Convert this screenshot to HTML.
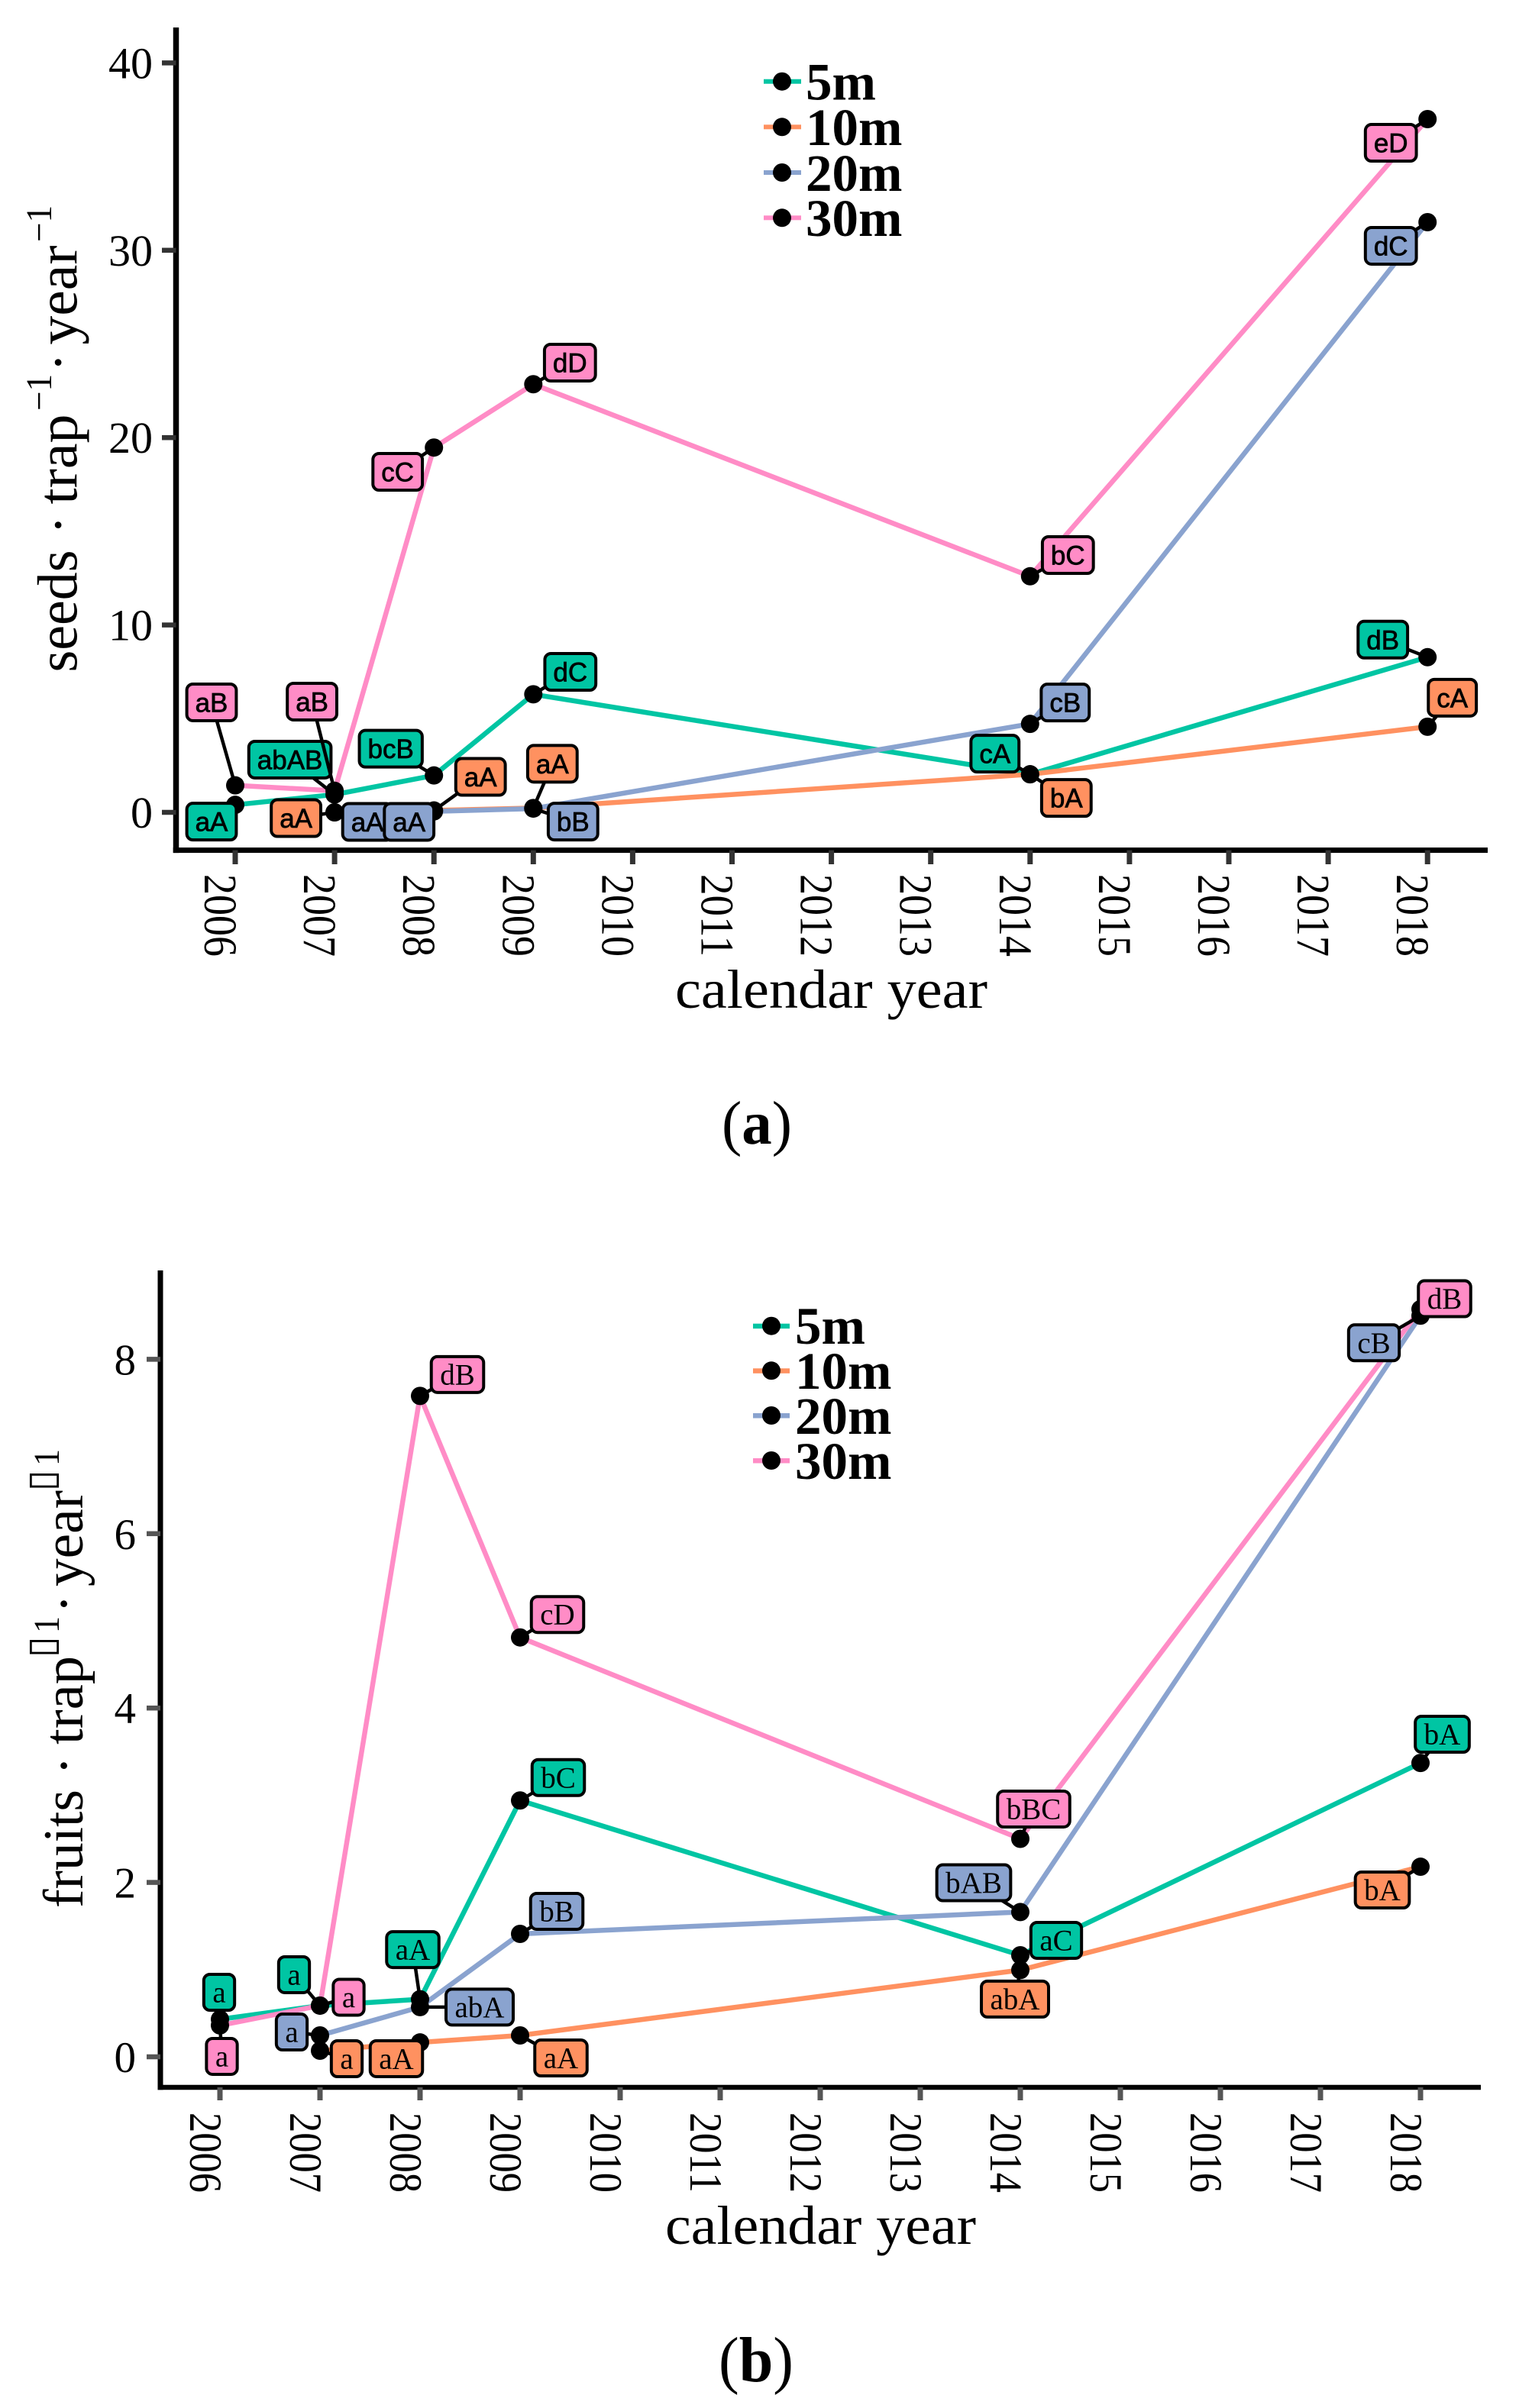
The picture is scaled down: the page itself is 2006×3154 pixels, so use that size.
<!DOCTYPE html>
<html lang="en">
<head>
<meta charset="utf-8">
<title>Seeds and fruits per trap per year</title>
<style>
html,body{margin:0;padding:0;background:#fff}
svg{display:block}
.serif{font-family:"Liberation Serif",serif;fill:#000}
.title{font-size:72px}
.ytitle{font-size:74px}
.sup{font-size:48px}
.leg{font-size:69px;font-weight:bold}
.tof{font-family:"DejaVu Sans",sans-serif;font-size:50px;fill:#000}
</style>
</head>
<body>
<svg id="figure" xmlns="http://www.w3.org/2000/svg" width="2006" height="3154" viewBox="0 0 2006 3154">
  <rect x="0" y="0" width="2006" height="3154" fill="#fff"/>
  <g id="panelA"></g>
  <g id="panelB"></g>

  <g>
    <text class="serif ytitle" transform="translate(100.7,880.5) rotate(-90)" textLength="160" lengthAdjust="spacingAndGlyphs">seeds</text>
    <text class="serif ytitle" transform="translate(100.7,700) rotate(-90)" x="0">·</text>
    <text class="serif ytitle" transform="translate(100.7,660.5) rotate(-90)" textLength="118" lengthAdjust="spacingAndGlyphs">trap</text>
    <text class="serif sup" transform="translate(67,538) rotate(-90)" textLength="48" lengthAdjust="spacingAndGlyphs">−1</text>
    <text class="serif ytitle" transform="translate(100.7,487) rotate(-90)">·</text>
    <text class="serif ytitle" transform="translate(100.7,451.5) rotate(-90)" textLength="130" lengthAdjust="spacingAndGlyphs">year</text>
    <text class="serif sup" transform="translate(67,317) rotate(-90)" textLength="48" lengthAdjust="spacingAndGlyphs">−1</text>
  </g>
  <text class="serif title" x="884" y="1320" textLength="409" lengthAdjust="spacingAndGlyphs">calendar year</text>
  <g>
    <g><rect x="1000" y="103.7" width="49" height="6" fill="rgb(0,197,163)"/><circle cx="1024" cy="106.7" r="12"/><text class="serif leg" x="1055" y="130.7">5m</text></g>
    <g><rect x="1000" y="163.3" width="49" height="6" fill="rgb(255,145,96)"/><circle cx="1024" cy="166.3" r="12"/><text class="serif leg" x="1055" y="190">10m</text></g>
    <g><rect x="1000" y="223" width="49" height="6" fill="rgb(138,163,207)"/><circle cx="1024" cy="226" r="12"/><text class="serif leg" x="1055" y="250">20m</text></g>
    <g><rect x="1000" y="282.3" width="49" height="6" fill="rgb(255,140,198)"/><circle cx="1024" cy="285.3" r="12"/><text class="serif leg" x="1055" y="309">30m</text></g>
  </g>
  <text class="serif" x="945" y="1498" font-size="80" textLength="92" lengthAdjust="spacingAndGlyphs">(<tspan font-weight="bold">a</tspan>)</text>

  <g>
    <text class="serif ytitle" transform="translate(108,2499) rotate(-90)" textLength="155" lengthAdjust="spacingAndGlyphs">fruits</text>
    <text class="serif ytitle" transform="translate(108,2325) rotate(-90)">·</text>
    <text class="serif ytitle" transform="translate(108,2285) rotate(-90)" textLength="116" lengthAdjust="spacingAndGlyphs">trap</text>
    <text class="tof" transform="translate(71,2171) rotate(-90)">▯</text>
    <text class="serif sup" transform="translate(77,2139) rotate(-90)" textLength="22" lengthAdjust="spacingAndGlyphs">1</text>
    <text class="serif ytitle" transform="translate(108,2113) rotate(-90)">·</text>
    <text class="serif ytitle" transform="translate(108,2078) rotate(-90)" textLength="126" lengthAdjust="spacingAndGlyphs">year</text>
    <text class="tof" transform="translate(71,1953) rotate(-90)">▯</text>
    <text class="serif sup" transform="translate(77,1920) rotate(-90)" textLength="22" lengthAdjust="spacingAndGlyphs">1</text>
  </g>
  <text class="serif title" x="871" y="2939" textLength="407" lengthAdjust="spacingAndGlyphs">calendar year</text>
  <g>
    <g><rect x="986" y="1733.7" width="48" height="6.5" fill="rgb(0,197,163)"/><circle cx="1010" cy="1736.7" r="12"/><text class="serif leg" x="1041" y="1760">5m</text></g>
    <g><rect x="986" y="1792.3" width="48" height="6.5" fill="rgb(255,145,96)"/><circle cx="1010" cy="1795.3" r="12"/><text class="serif leg" x="1041" y="1819">10m</text></g>
    <g><rect x="986" y="1851" width="48" height="6.5" fill="rgb(138,163,207)"/><circle cx="1010" cy="1854" r="12"/><text class="serif leg" x="1041" y="1878">20m</text></g>
    <g><rect x="986" y="1910" width="48" height="6.5" fill="rgb(255,140,198)"/><circle cx="1010" cy="1913" r="12"/><text class="serif leg" x="1041" y="1937">30m</text></g>
  </g>
  <text class="serif" x="941" y="3119" font-size="84" textLength="98" lengthAdjust="spacingAndGlyphs">(<tspan font-weight="bold">b</tspan>)</text>
</svg>

<script>
// ---------- shared tick labels ----------
const xTickLabels = [2006,2007,2008,2009,2010,2011,2012,2013,2014,2015,2016,2017,2018];
const seriesNames = ['5m','10m','20m','30m'];

// ---------- panel (a): seeds per trap per year ----------
const seedYTickLabels = [0,10,20,30,40];
const seedYears5m  = [2006,2007,2008,2009,2014,2018];
const seedYears10m = [2007,2008,2009,2014,2018];
const seedYears20m = [2007,2008,2009,2014,2018];
const seedYears30m = [2006,2007,2008,2009,2014,2018];
const seedValues5m  = [0.4,0.95,1.97,6.3,2.03,8.28];
const seedValues10m = [0,0.1,0.23,2.03,4.57];
const seedValues20m = [0,0.05,0.2,4.72,31.5];
const seedValues30m = [1.44,1.15,19.47,22.85,12.6,37];
const seedLabels5m  = ['aA','abAB','bcB','dC','cA','dB'];
const seedLabels10m = ['aA','aA','aA','bA','cA'];
const seedLabels20m = ['aA','aA','bB','cB','dC'];
const seedLabels30m = ['aB','aB','cC','dD','bC','eD'];

// ---------- panel (b): fruits per trap per year ----------
const fruitYTickLabels = [0,2,4,6,8];
const fruitYears5m  = [2006,2007,2008,2009,2014,2018];
const fruitYears10m = [2007,2008,2009,2014,2018];
const fruitYears20m = [2007,2008,2009,2014,2018];
const fruitYears30m = [2006,2007,2008,2009,2014,2018];
const fruitValues5m  = [0.43,0.587,0.66,2.94,1.165,3.37];
const fruitValues10m = [0.07,0.165,0.245,0.995,2.18];
const fruitValues20m = [0.245,0.57,1.41,1.66,8.5];
const fruitValues30m = [0.36,0.587,7.58,4.81,2.5,8.575];
const fruitLabels5m  = ['a','a','aA','bC','aC','bA'];
const fruitLabels10m = ['a','aA','aA','abA','bA'];
const fruitLabels20m = ['a','abA','bB','bAB','cB'];
const fruitLabels30m = ['a','a','dB','cD','bBC','dB'];

const SVG_NS = 'http://www.w3.org/2000/svg';
const seriesColors = ['rgb(0,197,163)','rgb(255,145,96)','rgb(138,163,207)','rgb(255,140,198)'];

function make(tag, attrs, parent) {
  const el = document.createElementNS(SVG_NS, tag);
  for (const k in attrs) el.setAttribute(k, attrs[k]);
  parent.appendChild(el);
  return el;
}

function drawPanel(root, cfg) {
  const x = cfg.x, y = cfg.y;

  // axes
  const yLine = make('rect', {x: cfg.axisX - cfg.axisW / 2, y: cfg.axisTop, width: cfg.axisW, height: cfg.axisY - cfg.axisTop + cfg.axisH / 2, fill: '#000'}, root);
  
  
  const xLine = make('rect', {x: cfg.axisX - cfg.axisW / 2, y: cfg.axisY - cfg.axisH / 2, width: cfg.axisRight - cfg.axisX + cfg.axisW / 2, height: cfg.axisH, fill: '#000'}, root);
  
  

  xTickLabels.forEach(function (yr) {
    const tick = make('rect', {x: x(yr) - 3.5, y: cfg.axisY, width: 7, height: cfg.xTickEnd - cfg.axisY, fill: cfg.tickColor}, root);
    
    
    const lab = make('text', {transform: 'translate(' + (x(yr) + cfg.xLabelShift) + ',' + cfg.xLabelStart + ') rotate(90)', 'class': 'serif', 'font-size': cfg.xTickFont, textLength: cfg.xLabelLen, lengthAdjust: 'spacingAndGlyphs'}, root);
    lab.textContent = yr;
    
    
  });
  cfg.yTicks.forEach(function (v) {
    const tick = make('rect', {x: cfg.yTickStart, y: y(v) - 3.25, width: cfg.axisX - cfg.yTickStart, height: 6.5, fill: cfg.tickColor}, root);
    
    
    const lab = make('text', {x: cfg.yLabelEnd, y: y(v) + 20, 'class': 'serif', 'font-size': cfg.tickFont, 'text-anchor': 'end'}, root);
    lab.textContent = v;
    
    
  });

  // lines
  cfg.series.forEach(function (s, i) {
    const pts = s.years.map(function (yr, j) { return x(yr) + ',' + y(s.values[j]); }).join(' ');
    const line = make('polyline', {points: pts, fill: 'none', stroke: seriesColors[i], 'stroke-width': 6.5, 'stroke-linejoin': 'round'}, root);
    
    
  });

  // points
  cfg.series.forEach(function (s, i) {
    s.years.forEach(function (yr, j) {
      const dot = make('circle', {cx: x(yr), cy: y(s.values[j]), r: 12, fill: '#000'}, root);
      
      
    });
  });

  // repelled labels with connector segments
  cfg.series.forEach(function (s, i) {
    s.years.forEach(function (yr, j) {
      const px = x(yr), py = y(s.values[j]);
      const cx = px + s.nudge[j][0], cy = py + s.nudge[j][1];
      const seg = make('line', {x1: cx, y1: cy, x2: px, y2: py, stroke: '#000', 'stroke-width': 4.5}, root);
      
      
      const box = make('rect', {y: cy - cfg.boxH / 2 + 2, height: cfg.boxH - 4, rx: 8, ry: 8, fill: seriesColors[i], stroke: '#000', 'stroke-width': 4}, root);
      
      
      const txt = make('text', {x: cx, y: cy + cfg.textDrop, 'text-anchor': 'middle', 'font-size': cfg.labelFont, 'font-family': cfg.labelFamily, fill: '#000', stroke: '#000', 'stroke-width': cfg.labelWeight}, root);
      txt.textContent = s.labels[j];
      
      
      const w = txt.getComputedTextLength() + cfg.labelPad;
      box.setAttribute('x', cx - w / 2 + 2);
      box.setAttribute('width', w - 4);
    });
  });
}

function seedX(yr) { return 308 + 130.1 * (yr - 2006); }
function seedY(v) { return 1064 - 24.54 * v; }
function fruitX(yr) { return 288 + 131 * (yr - 2006); }
function fruitY(v) { return 2694 - 114.2 * v; }

function seedPanelConfig() {
  return {
    x: seedX, y: seedY, yTicks: seedYTickLabels,
    axisX: 230.5, axisW: 7.5, axisH: 7, axisY: 1113.6, axisTop: 36, axisRight: 1948,
    tickColor: '#333', xTickEnd: 1132, yTickStart: 212,
    xLabelShift: -40, xLabelStart: 1145, xLabelLen: 108, tickFont: 58, xTickFont: 61, yLabelEnd: 200,
    labelFont: 35, labelFamily: '"Liberation Sans",sans-serif', labelWeight: 0.7, labelPad: 26, boxH: 52, textDrop: 12.5,
    series: [
      {years: seedYears5m, values: seedValues5m, labels: seedLabels5m,
       nudge: [[-31,22],[-58.5,-45.7],[-56.5,-35],[48.5,-29.4],[-46,-27],[-58.5,-23]]},
      {years: seedYears10m, values: seedValues10m, labels: seedLabels10m,
       nudge: [[-50.5,7.5],[61,-44],[25,-58],[47.5,31],[32.5,-38]]},
      {years: seedYears20m, values: seedValues20m, labels: seedLabels20m,
       nudge: [[43,12.5],[-32.5,13.7],[52,17],[46,-28],[-48,31]]},
      {years: seedYears30m, values: seedValues30m, labels: seedLabels30m,
       nudge: [[-31,-108.7],[-29.5,-116.8],[-47.5,31.8],[48,-28.3],[49.5,-27.8],[-48,31]]}
    ]
  };
}

function fruitPanelConfig() {
  return {
    x: fruitX, y: fruitY, yTicks: fruitYTickLabels,
    axisX: 210, axisW: 7, axisH: 6.5, axisY: 2734, axisTop: 1664, axisRight: 1939,
    tickColor: '#555', xTickEnd: 2751, yTickStart: 192,
    xLabelShift: -39, xLabelStart: 2767, xLabelLen: 105, tickFont: 57, xTickFont: 60, yLabelEnd: 178,
    labelFont: 39, labelFamily: '"Liberation Serif",serif', labelWeight: 0, labelPad: 27, boxH: 51, textDrop: 13,
    series: [
      {years: fruitYears5m, values: fruitValues5m, labels: fruitLabels5m,
       nudge: [[-1,-35.4],[-34,-40.5],[-9.5,-65],[50,-30],[47,-19.5],[28.5,-37.6]]},
      {years: fruitYears10m, values: fruitValues10m, labels: fruitLabels10m,
       nudge: [[35,10.5],[-31,21.3],[53.5,29.5],[-7,38],[-50,30.5]]},
      {years: fruitYears20m, values: fruitValues20m, labels: fruitLabels20m,
       nudge: [[-37,-4.5],[78,0],[48,-29.5],[-61,-38.4],[-61,35.5]]},
      {years: fruitYears30m, values: fruitValues30m, labels: fruitLabels30m,
       nudge: [[2.5,40.6],[37.5,-11],[49,-28],[49,-30],[17.5,-39],[31.5,-13.7]]}
    ]
  };
}

drawPanel(document.getElementById('panelA'), seedPanelConfig());
drawPanel(document.getElementById('panelB'), fruitPanelConfig());
</script>
</body>
</html>
